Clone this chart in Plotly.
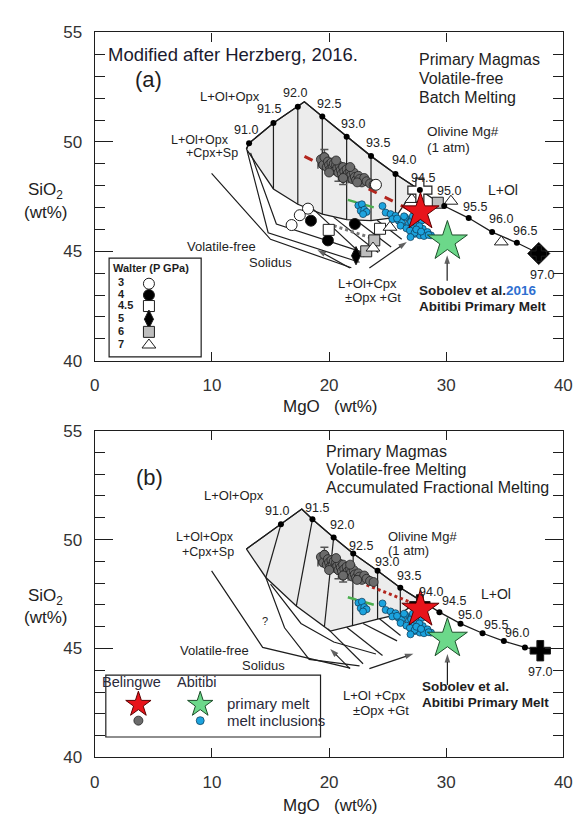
import plotly.graph_objects as go

FONT = "Liberation Sans, Arial, Helvetica, sans-serif"
INK = "#1e1e1e"
W, H = 587, 830

# ---------------- shared sample data ----------------
# Belingwe melt inclusions (grey)
gray_mgo = [19.3, 19.5, 19.6, 19.8, 19.9, 20.0, 20.1, 20.2, 20.3, 20.4, 20.5, 20.6, 20.7,
            20.8, 20.9, 21.0, 21.1, 21.2, 21.3, 21.4, 21.5, 21.6, 21.7, 21.8, 21.9, 22.0,
            22.1, 22.2, 22.3, 22.5, 22.6, 22.8, 23.0, 23.2, 23.5, 23.8, 20.0, 20.6, 21.2,
            21.8, 22.4]
gray_sio2 = [49.2, 48.95, 49.3, 48.85, 49.1, 48.95, 48.75, 49.05, 48.85, 49.0, 48.7, 48.95,
             48.8, 48.6, 48.9, 48.72, 48.55, 48.85, 48.65, 48.45, 48.75, 48.55, 48.4, 48.65,
             48.5, 48.3, 48.6, 48.4, 48.25, 48.45, 48.3, 48.15, 48.35, 48.2, 48.1, 48.05,
             48.6, 49.15, 48.35, 48.85, 48.15]
# points carrying analytical uncertainty
gray_err_mgo = [19.6, 20.8, 21.9, 21.2, 19.5]
gray_err_sio2 = [49.3, 48.6, 48.5, 48.35, 48.95]
gray_err_dy = [0.35, 0.4, 0.35, 0.3, 0.0]
gray_err_dx = [0.0, 0.0, 0.0, 0.0, 0.45]

# Abitibi melt inclusions (blue)
blue_mgo = [22.5, 22.7, 22.8, 23.0, 23.2, 22.9, 24.56, 24.83, 25.25, 25.67, 25.4, 25.94,
            26.2, 26.5, 26.1, 26.8, 27.2, 27.5, 27.6, 28.0, 27.33, 27.75, 28.2, 28.4, 28.7,
            27.9, 27.06, 26.6, 26.9, 27.3, 27.7, 28.1, 26.4, 25.8, 27.0, 27.45, 28.5, 27.85,
            26.95, 27.15]
blue_sio2 = [47.1, 46.85, 47.15, 46.9, 46.8, 46.7, 47.07, 46.77, 46.7, 46.62, 46.47, 46.4,
             46.33, 46.55, 46.17, 46.25, 46.1, 46.25, 45.95, 46.03, 45.8, 45.73, 45.8, 45.88,
             45.73, 46.4, 46.47, 46.05, 45.95, 45.85, 46.15, 45.7, 46.6, 46.5, 46.35, 46.0,
             45.75, 45.9, 45.65, 46.6]

belingwe_primary = (27.8, 46.8)
abitibi_primary = (30.1, 45.45)

green_trend_mgo = [21.6, 24.2]
green_trend_sio2 = [47.35, 46.95]

# ---------------- panel (a): batch melting ----------------
mg_labels = ["91.0", "91.5", "92.0", "92.5", "93.0", "93.5", "94.0",
             "94.5", "95.0", "95.5", "96.0", "96.5", "97.0"]
a_mg_mgo = [13.17, 15.25, 17.33, 19.42, 21.5, 23.58, 25.67, 27.75, 29.83, 31.92, 33.92, 36.03, 37.9]
a_mg_sio2 = [49.94, 50.86, 51.61, 51.16, 50.24, 49.35, 48.53, 47.8, 47.07, 46.52, 45.88, 45.39, 44.9]
a_apex = (17.89, 51.83)
a_cpx_sp = (12.94, 49.67)
a_corner = (27.4, 47.92)
a_lower_mgo = [25.67, 23.58, 21.5, 19.42, 17.33, 15.25]
a_lower_sio2 = [46.55, 46.4, 46.45, 46.7, 47.15, 47.85]

a_solidus = ([9.97, 15.0, 21.9], [48.56, 45.55, 44.25])
a_cpx1 = ([13.0, 14.8, 22.6], [49.6, 45.85, 44.5])
a_cpx2 = ([13.3, 15.5, 23.5], [49.5, 46.25, 44.85])
a_hatch = [([18.6, 23.0], [46.95, 44.75]), ([20.4, 24.2], [46.55, 44.95]),
           ([22.3, 25.3], [46.42, 45.2]), ([24.1, 26.2], [46.42, 45.55])]
a_red_trend = ([17.9, 26.8], [49.34, 46.92])
a_dotted = ([20.4, 23.44], [46.17, 45.64])

walter = {
    "3":   dict(mgo=[18.2, 17.5, 16.8, 24.0], sio2=[46.95, 46.65, 46.2, 48.04],
                symbol="circle", color="white", size=11),
    "4":   dict(mgo=[18.45, 19.9, 22.2], sio2=[46.4, 45.5, 46.25],
                symbol="circle", color="black", size=11),
    "4.5": dict(mgo=[19.97, 24.35], sio2=[45.98, 46.03],
                symbol="square", color="white", size=11),
    "5":   dict(mgo=[22.3], sio2=[44.8],
                symbol="diamond-tall", color="black", size=13),
    "6":   dict(mgo=[23.17, 23.86, 29.28], sio2=[45.0, 45.5, 47.22],
                symbol="square", color="#bdbdbd", size=11),
    "7":   dict(mgo=[23.75, 25.2, 27.06, 30.4, 34.7], sio2=[45.15, 46.1, 47.37, 47.29, 45.43],
                symbol="triangle-up", color="white", size=12),
}
walter_order = ["3", "4", "4.5", "5", "6", "7"]
a_open_cross = (27.75, 47.8)

# ---------------- panel (b): accumulated fractional melting ----------------
b_mg_mgo = [15.89, 18.58, 20.39, 22.06, 24.14, 26.08, 27.75, 29.42, 31.22, 33.1, 34.92, 36.72, 38.03]
b_mg_sio2 = [50.70, 50.93, 50.09, 49.36, 48.57, 47.79, 47.22, 46.67, 46.14, 45.7, 45.34, 45.05, 44.9]
b_mg_labels = ["91.0", "91.5", "92.0", "92.5", "93.0", "93.5", "94.0",
               "94.5", "95.0", "95.5", "96.0", "", "97.0"]
b_apex = (17.67, 51.40)
b_cpx_sp = (12.94, 49.57)
b_lower_mgo = [26.08, 24.14, 22.0, 20.1, 17.2, 14.6]
b_lower_sio2 = [46.59, 46.35, 46.05, 45.8, 46.95, 48.26]
b_tie_bottom_mgo = [14.6, 17.2, 19.6, 22.0, 24.14, 26.08]
b_tie_bottom_sio2 = [48.26, 46.95, 46.0, 46.05, 46.35, 46.59]

b_solidus = ([9.97, 14.33, 21.8], [48.56, 45.05, 44.1])
b_cpx1 = ([14.6, 16.2, 18.3, 22.6], [48.26, 45.95, 44.5, 44.2])
b_cpx2 = ([15.0, 17.6, 20.4, 24.0], [47.95, 46.15, 45.3, 44.75])
b_hatch = [([19.9, 22.9], [45.9, 44.3]), ([21.5, 24.56], [45.98, 44.68]),
           ([22.9, 25.8], [46.15, 45.35]), ([24.3, 26.1], [46.37, 45.6])]
b_red_trend = ([23.2, 27.2], [47.92, 47.07])
b_black_cross = ([27.75, 38.03], [47.0, 44.9])

A = ("x", "y")
B = ("x2", "y2")

fig = go.Figure()


def add_line(ax, xs, ys, color=INK, width=1.2, dash=None):
    fig.add_trace(go.Scatter(x=xs, y=ys, mode="lines", xaxis=ax[0], yaxis=ax[1],
                             line=dict(color=color, width=width, dash=dash),
                             showlegend=False, hoverinfo="skip"))


def add_pts(ax, xs, ys, symbol="circle", color="black", size=8, lc=INK, lw=1.0, **kw):
    fig.add_trace(go.Scatter(x=xs, y=ys, mode="markers", xaxis=ax[0], yaxis=ax[1],
                             marker=dict(symbol=symbol, color=color, size=size,
                                         line=dict(color=lc, width=lw)),
                             showlegend=False, hoverinfo="skip", **kw))


def label(ax, x, y, text, size=12.5, anchor="center", color=INK):
    fig.add_annotation(x=x, y=y, xref=ax[0], yref=ax[1], text=text, showarrow=False,
                       xanchor=anchor, yanchor="middle",
                       font=dict(family=FONT, size=size, color=color))


def arrow(ax, head, tail):
    # shaft from tail to head, with an arrowhead marker turned along the shaft
    fig.add_trace(go.Scatter(x=[tail[0], head[0]], y=[tail[1], head[1]], mode="lines+markers",
                             xaxis=ax[0], yaxis=ax[1],
                             line=dict(color=INK, width=1.2),
                             marker=dict(symbol=["circle", "arrow"], size=[0, 9], color=INK,
                                         angleref="previous", line=dict(width=0)),
                             showlegend=False, hoverinfo="skip"))


def shared_samples(ax, red_trend, red_dash):
    add_line(ax, *red_trend, color="#b3261e", width=3, dash=red_dash)
    add_line(ax, green_trend_mgo, green_trend_sio2, color="#4caf50", width=2.5, dash="dash")
    fig.add_trace(go.Scatter(x=gray_err_mgo, y=gray_err_sio2, mode="markers",
                             xaxis=ax[0], yaxis=ax[1],
                             error_y=dict(type="data", array=gray_err_dy, color="#555",
                                          thickness=1.5, width=4),
                             error_x=dict(type="data", array=gray_err_dx, color="#555",
                                          thickness=1.5, width=4),
                             marker=dict(color="#6b6b6b", size=9, line=dict(color="#222", width=0.8)),
                             showlegend=False, hoverinfo="skip"))
    add_pts(ax, gray_mgo, gray_sio2, color="#6b6b6b", size=9, lc="#222", lw=0.8)
    add_pts(ax, blue_mgo, blue_sio2, color="#1ca3de", size=7, lc="#0b3550", lw=0.7)


# ================= panel (a) =================
poly_x = [a_cpx_sp[0]] + a_mg_mgo[:3] + [a_apex[0]] + a_mg_mgo[3:7] + [a_corner[0]] + a_lower_mgo + [a_cpx_sp[0]]
poly_y = [a_cpx_sp[1]] + a_mg_sio2[:3] + [a_apex[1]] + a_mg_sio2[3:7] + [a_corner[1]] + a_lower_sio2 + [a_cpx_sp[1]]
fig.add_trace(go.Scatter(x=poly_x, y=poly_y, mode="lines", fill="toself", fillcolor="#ececec",
                         line=dict(color=INK, width=1.3), xaxis="x", yaxis="y",
                         showlegend=False, hoverinfo="skip"))
curve_x = [a_cpx_sp[0]] + a_mg_mgo[:3] + [a_apex[0]] + a_mg_mgo[3:]
curve_y = [a_cpx_sp[1]] + a_mg_sio2[:3] + [a_apex[1]] + a_mg_sio2[3:]
add_line(A, curve_x, curve_y, width=1.3)
lower_lookup = dict(zip(a_lower_mgo, a_lower_sio2))
for mx, sy in zip(a_mg_mgo[1:7], a_mg_sio2[1:7]):
    add_line(A, [mx, mx], [sy, lower_lookup[mx]])
for ln in [a_solidus, a_cpx1, a_cpx2] + a_hatch:
    add_line(A, *ln)
add_line(A, *a_dotted, color="#777", width=3, dash="dot")

shared_samples(A, a_red_trend, "dash")

for key in walter_order:
    w = walter[key]
    add_pts(A, w["mgo"], w["sio2"], symbol=w["symbol"], color=w["color"], size=w["size"])
add_pts(A, [a_open_cross[0]], [a_open_cross[1]], symbol="cross", color="white", size=20, lw=1.2)
add_pts(A, a_mg_mgo[:-1], a_mg_sio2[:-1], color="black", size=6, lw=0)
# 5 GPa run at the Mg# 97.0 end of the curve
add_pts(A, [a_mg_mgo[-1]], [a_mg_sio2[-1]], symbol="diamond", color="black", size=17)
add_pts(A, [a_mg_mgo[-1]], [a_mg_sio2[-1]], symbol="cross", color="black", size=13)
add_pts(A, [belingwe_primary[0]], [belingwe_primary[1]], symbol="star", color="#e8141b",
        size=28, lc="#5a0000", lw=1)
add_pts(A, [abitibi_primary[0]], [abitibi_primary[1]], symbol="star", color="#6cd88a",
        size=30, lc="#1d4d2a", lw=1)

# Mg# tick labels along the curve (a)
a_lab_x = [12.9, 14.83, 17.06, 19.98, 22.06, 24.14, 26.36, 28.03, 30.25, 32.47, 34.67, 36.75, 38.17]
a_lab_y = [50.54, 51.49, 52.23, 51.75, 50.83, 49.97, 49.15, 48.36, 47.74, 47.02, 46.47, 45.94, 43.94]
for t, lx, ly in zip(mg_labels, a_lab_x, a_lab_y):
    label(A, lx, ly, t, size=12.5, color="#222")

label(A, 0.92, 54.0, "Modified after Herzberg, 2016.", size=18.5, anchor="left", color="#1a1a2e")
label(A, 4.56, 52.87, "(a)", size=22)
label(A, 27.47, 53.76, "Primary Magmas", size=16, anchor="left")
label(A, 27.47, 52.9, "Volatile-free", size=16, anchor="left")
label(A, 27.47, 52.05, "Batch Melting", size=16, anchor="left")
label(A, 11.5, 52.08, "L+Ol+Opx", size=13)
label(A, 9.0, 50.08, "L+Ol+Opx", size=12.5)
label(A, 9.97, 49.48, "+Cpx+Sp", size=12.5)
label(A, 28.17, 50.47, "Olivine Mg#", size=13.5, anchor="left")
label(A, 28.17, 49.76, "(1 atm)", size=13.5, anchor="left")
label(A, 34.83, 47.81, "L+Ol", size=14)
label(A, 10.8, 45.21, "Volatile-free", size=13)
label(A, 14.97, 44.5, "Solidus", size=13)
label(A, 23.3, 43.54, "L+Ol+Cpx", size=13)
label(A, 23.72, 42.88, "±Opx +Gt", size=13)
label(A, 27.5, 43.2, "<b>Sobolev et al.<span style=\"color:#2f6fd0\">2016</span></b>",
      size=13.5, anchor="left")
label(A, 27.5, 42.46, "<b>Abitibi Primary Melt</b>", size=13.5, anchor="left")
arrow(A, (19.0, 45.06), (21.78, 44.24))
arrow(A, (26.64, 45.43), (23.44, 44.24))
arrow(A, (30.08, 44.82), (30.08, 43.66))

# Walter key (a)
fig.add_shape(type="rect", xref="x", yref="y", x0=1.22, x1=9.08, y0=40.18, y1=44.69,
              line=dict(color=INK, width=1.2), fillcolor="white", layer="below")
label(A, 4.83, 44.24, "<b>Walter (P GPa)</b>", size=11)
key_y = [43.52, 43.0, 42.5, 41.9, 41.32, 40.72]
for key, ky in zip(walter_order, key_y):
    w = walter[key]
    label(A, 1.8, ky + 0.06, "<b>%s</b>" % key, size=11, anchor="left")
    add_pts(A, [4.62], [ky], symbol=w["symbol"], color=w["color"], size=w["size"])

# ================= panel (b) =================
pb_x = [b_cpx_sp[0], b_mg_mgo[0], b_apex[0]] + b_mg_mgo[1:7] + b_lower_mgo + [b_cpx_sp[0]]
pb_y = [b_cpx_sp[1], b_mg_sio2[0], b_apex[1]] + b_mg_sio2[1:7] + b_lower_sio2 + [b_cpx_sp[1]]
fig.add_trace(go.Scatter(x=pb_x, y=pb_y, mode="lines", fill="toself", fillcolor="#ececec",
                         line=dict(color=INK, width=1.3), xaxis="x2", yaxis="y2",
                         showlegend=False, hoverinfo="skip"))
cb_x = [b_cpx_sp[0], b_mg_mgo[0], b_apex[0]] + b_mg_mgo[1:]
cb_y = [b_cpx_sp[1], b_mg_sio2[0], b_apex[1]] + b_mg_sio2[1:]
add_line(B, cb_x, cb_y, width=1.3)
for i in range(6):
    add_line(B, [b_mg_mgo[i], b_tie_bottom_mgo[i]], [b_mg_sio2[i], b_tie_bottom_sio2[i]])
for ln in [b_solidus, b_cpx1, b_cpx2] + b_hatch:
    add_line(B, *ln)

shared_samples(B, b_red_trend, "dot")

add_pts(B, b_mg_mgo[:-1], b_mg_sio2[:-1], color="black", size=6, lw=0)
add_pts(B, b_black_cross[0], b_black_cross[1], symbol="cross", color="black", size=17)
add_pts(B, [belingwe_primary[0]], [belingwe_primary[1]], symbol="star", color="#e8141b",
        size=28, lc="#5a0000", lw=1)
add_pts(B, [abitibi_primary[0]], [abitibi_primary[1]], symbol="star", color="#6cd88a",
        size=30, lc="#1d4d2a", lw=1)

b_lab_x = [15.53, 19.0, 21.08, 22.75, 24.97, 26.78, 28.72, 30.67, 32.06, 34.25, 36.08, 0, 38.03]
b_lab_y = [51.33, 51.45, 50.66, 49.72, 48.97, 48.31, 47.59, 47.17, 46.55, 46.1, 45.73, 0, 43.93]
for t, lx, ly in zip(b_mg_labels, b_lab_x, b_lab_y):
    if t:
        label(B, lx, ly, t, size=12.5, color="#222")

label(B, 4.69, 52.83, "(b)", size=22)
label(B, 19.56, 54.02, "Primary Magmas", size=16, anchor="left")
label(B, 19.56, 53.2, "Volatile-free Melting", size=16, anchor="left")
label(B, 19.56, 52.41, "Accumulated Fractional Melting", size=16, anchor="left")
label(B, 11.92, 52.0, "L+Ol+Opx", size=13)
label(B, 9.42, 50.1, "L+Ol+Opx", size=12.5)
label(B, 9.69, 49.42, "+Cpx+Sp", size=12.5)
label(B, 24.83, 50.14, "Olivine Mg#", size=13, anchor="left")
label(B, 24.83, 49.52, "(1 atm)", size=13, anchor="left")
label(B, 34.28, 47.52, "L+Ol", size=14)
label(B, 14.56, 46.25, "?", size=11)
label(B, 10.25, 44.9, "Volatile-free", size=13)
label(B, 14.42, 44.23, "Solidus", size=13)
label(B, 23.86, 42.84, "L+Ol +Cpx", size=13)
label(B, 24.42, 42.16, "±Opx +Gt", size=13)
label(B, 27.75, 43.26, "<b>Sobolev et al.</b>", size=13.5, anchor="left")
label(B, 27.75, 42.51, "<b>Abitibi Primary Melt</b>", size=13.5, anchor="left")
arrow(B, (20.1, 44.98), (21.78, 44.08))
arrow(B, (27.2, 44.76), (23.44, 44.08))
arrow(B, (30.1, 44.75), (30.1, 43.33))

# sample key (b)
fig.add_shape(type="rect", xref="x2", yref="y2", x0=0.94, x1=19.27, y0=40.94, y1=43.78,
              line=dict(color=INK, width=1.2), fillcolor="white", layer="below")
label(B, 3.17, 43.48, "Belingwe", size=14.5, color="#2a2a3a")
label(B, 8.72, 43.48, "Abitibi", size=14.5, color="#2a2a3a")
add_pts(B, [3.72], [42.43], symbol="star", color="#e8141b", size=19, lc="#5a0000", lw=1)
add_pts(B, [9.0], [42.43], symbol="star", color="#6cd88a", size=19, lc="#1d4d2a", lw=1)
add_pts(B, [3.72], [41.69], color="#6b6b6b", size=9, lc="#222", lw=0.8)
add_pts(B, [9.0], [41.69], color="#1ca3de", size=8, lc="#0b3550", lw=0.7)
label(B, 11.08, 42.48, "primary melt", size=15, anchor="left", color="#2a2a3a")
label(B, 11.08, 41.69, "melt inclusions", size=15, anchor="left", color="#2a2a3a")

# ---------------- axes ----------------
xd = [92 / W, 572 / W]
ya = [1 - 360 / H, 1 - 24 / H]
yb = [1 - 766 / H, 1 - 431.5 / H]


def xaxis(anchor):
    return dict(domain=xd, range=[0, 40], tickvals=[0, 10, 20, 30, 40], anchor=anchor,
                ticks="inside", ticklen=9, tickwidth=1.2, tickcolor=INK,
                showline=True, linecolor=INK, linewidth=1.3, mirror="allticks",
                showgrid=False, zeroline=False, ticklabelstandoff=9,
                tickfont=dict(family=FONT, size=17, color="#333"))


def yaxis(dom, anchor):
    return dict(domain=dom, range=[40, 55], tickvals=[40, 45, 50, 55], anchor=anchor,
                ticks="inside", ticklen=18, tickwidth=1.2, tickcolor=INK,
                minor=dict(dtick=1, ticks="inside", ticklen=10, tickwidth=1.2, tickcolor=INK),
                showline=True, linecolor=INK, linewidth=1.3, mirror="allticks",
                showgrid=False, zeroline=False, ticklabelstandoff=8,
                tickfont=dict(family=FONT, size=17, color="#333"))


fig.update_layout(
    width=W, height=H, margin=dict(l=0, r=0, t=0, b=0),
    paper_bgcolor="white", plot_bgcolor="white", showlegend=False,
    xaxis=xaxis("y"), yaxis=yaxis(ya, "x"),
    xaxis2=xaxis("y2"), yaxis2=yaxis(yb, "x2"),
)

for ycen, text in [(186, "SiO<sub>2</sub>"), (208, "(wt%)"), (602, "SiO<sub>2</sub>"), (623, "(wt%)")]:
    fig.add_annotation(x=41 / W, y=1 - ycen / H, xref="paper", yref="paper", text=text,
                       showarrow=False, xanchor="center", yanchor="middle",
                       font=dict(family=FONT, size=17, color="#222"))
for ycen in [407, 815]:
    fig.add_annotation(x=333 / W, y=1 - ycen / H, xref="paper", yref="paper",
                       text="MgO\u00a0\u00a0\u00a0(wt%)", showarrow=False,
                       xanchor="center", yanchor="middle",
                       font=dict(family=FONT, size=17, color="#222"))

fig.write_html("out.html")
